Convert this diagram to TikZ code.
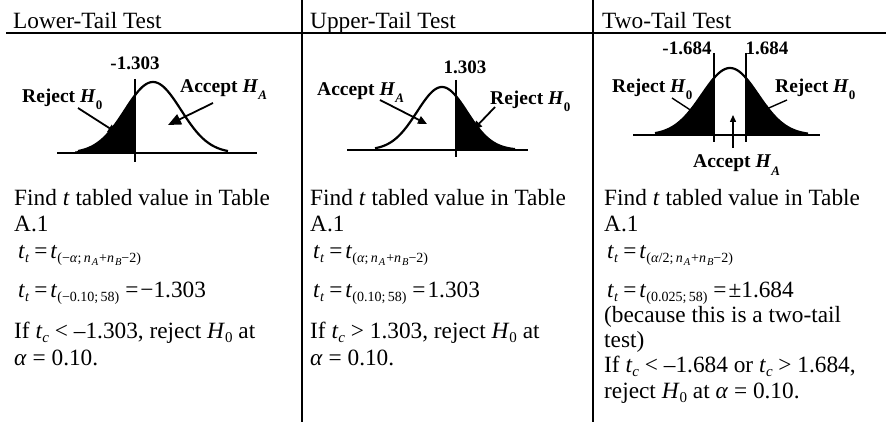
\documentclass[tikz,border=0pt]{standalone}
\usepackage{fontspec}
\setmainfont{Liberation Serif}
\usetikzlibrary{arrows.meta}
\newcommand\sbs[1]{\raisebox{-4pt}{\fontsize{14}{14}\selectfont #1}}
\newcommand\ssbs[1]{\raisebox{-3pt}{\fontsize{10.5}{11}\selectfont\itshape #1}}
\newcommand\tsb[1]{\raisebox{-4.5pt}{\fontsize{15}{15}\selectfont #1}}
\newcommand\glab[2]{#1\hspace{5pt}\textit{H}\raisebox{-7pt}{\fontsize{13}{13}\selectfont #2}}
\begin{document}
\begin{tikzpicture}[x=1pt,y=-1pt,
  declare function={
    gA(\x)=153-71*exp(-((\x-153)^2)/1568);
    gB(\x)=150-63*exp(-((\x-442)^2)/1250);
    gC(\x)=135-67*exp(-((\x-730)^2)/1568);
  },
  txt/.style={anchor=base west,inner sep=0pt,font=\fontsize{23.3}{27}\selectfont},
  lab/.style={anchor=base west,inner sep=0pt,font=\fontsize{19.5}{20}\selectfont\bfseries},
  num/.style={anchor=base,inner sep=0pt,font=\fontsize{19}{20}\selectfont\bfseries},
  rulel/.style={line width=2pt},
  axisl/.style={line width=2.4pt},
  curvel/.style={line width=2.2pt},
  tickl/.style={line width=1.8pt},
  ptr/.style={line width=1.8pt,-{Triangle[length=9pt,width=8pt]}},
  bigptr/.style={line width=1.8pt,-{Triangle[length=13pt,width=11pt]}},
  thinptr/.style={line width=1.4pt,-{Triangle[length=7pt,width=6pt]}},
]
\fill[white] (0,0) rectangle (891,422);
\useasboundingbox (0,0) rectangle (891,422);

% table rules
\draw[rulel] (6,33) -- (886,33);
\draw[rulel] (302,0) -- (302,422);
\draw[rulel] (593,0) -- (593,422);

% headers
\node[txt] (h1) at (13,29) {Lower-Tail Test};
\node[txt] (h2) at (310,29) {Upper-Tail Test};
\node[txt] (h3) at (602,29) {Two-Tail Test};

% ---------- graph 1: lower tail ----------
\fill (75,153) -- plot[domain=75:135,samples=40] (\x,{gA(\x)}) -- (135,153) -- cycle;
\draw[curvel] plot[domain=78:228,samples=80] (\x,{gA(\x)});
\draw[axisl] (57,153) -- (257,153);
\draw[tickl] (135,79) -- (135,162);
\node[num] (n1) at (135,70) {-1.303};
\node[lab] (r1) at (22,103) {\glab{Reject}{0}};
\node[lab] (a1) at (180,93) {\glab{Accept}{\textit{A}}};
\coordinate (r1s) at (78,108); \coordinate (r1e) at (117,133);
\coordinate (a1s) at (213,103); \coordinate (a1e) at (168,125);
\draw[ptr] (r1s) -- (r1e);
\draw[bigptr] (a1s) -- (a1e);

% ---------- graph 2: upper tail ----------
\fill (456,150) -- plot[domain=456:518,samples=40] (\x,{gB(\x)}) -- (518,150) -- cycle;
\draw[curvel] plot[domain=375:515,samples=80] (\x,{gB(\x)});
\draw[axisl] (347,150) -- (528,150);
\draw[tickl] (456,80) -- (456,157);
\node[num] (n2) at (465,74) {1.303};
\node[lab] (a2) at (317,96) {\glab{Accept}{\textit{A}}};
\node[lab] (r2) at (490,105) {\glab{Reject}{0}};
\coordinate (a2s) at (380,100); \coordinate (a2e) at (427,124);
\coordinate (r2s) at (495,107); \coordinate (r2e) at (473,130);
\draw[ptr] (a2s) -- (a2e);
\draw[ptr] (r2s) -- (r2e);

% ---------- graph 3: two tail ----------
\fill (655,135) -- plot[domain=655:714,samples=40] (\x,{gC(\x)}) -- (714,135) -- cycle;
\fill (746,135) -- plot[domain=746:808,samples=40] (\x,{gC(\x)}) -- (808,135) -- cycle;
\draw[curvel] plot[domain=655:808,samples=90] (\x,{gC(\x)});
\draw[axisl] (633,135) -- (820,135);
\draw[tickl] (714,53) -- (714,142);
\draw[tickl] (746,53) -- (746,142);
\node[num] (n3a) at (687,55) {-1.684};
\node[num] (n3b) at (767,55) {1.684};
\node[lab] (r3a) at (612,93) {\glab{Reject}{0}};
\node[lab] (r3b) at (775,93) {\glab{Reject}{0}};
\node[lab] (a3) at (693,168) {\glab{Accept}{\textit{A}}};
\coordinate (r3as) at (672,98); \coordinate (r3ae) at (698,115);
\coordinate (r3bs) at (787,100); \coordinate (r3be) at (762,111);
\coordinate (a3s) at (733,148); \coordinate (a3e) at (733,115);
\draw[thinptr] (r3as) -- (r3ae);
\draw[thinptr] (r3bs) -- (r3be);
\draw[thinptr] (a3s) -- (a3e);

% ---------- column 1 text ----------
\node[txt] (c1l1) at (14,205) {Find \textit{t} tabled value in Table};
\node[txt] (c1l2) at (14,231) {A.1};
\node[txt] (c1f1) at (18,258) {\textit{t}\sbs{\textit{t}}\hspace{5pt}=\hspace{3pt}\textit{t}\sbs{(−\textit{α};\,\textit{n}\hspace{1pt}\ssbs{A}\hspace{1pt}+\textit{n}\hspace{1pt}\ssbs{B}−2)}};
\node[txt] (c1f2) at (18,297) {\textit{t}\sbs{\textit{t}}\hspace{5pt}=\hspace{3pt}\textit{t}\sbs{(−0.10;\,58)}\hspace{6pt}=\hspace{2pt}−1.303};
\node[txt] (c1l5) at (14,338) {If \textit{t}\tsb{\textit{c}} < –1.303, reject \textit{H}\tsb{0} at};
\node[txt] (c1l6) at (14,365) {\textit{α} = 0.10.};

% ---------- column 2 text ----------
\node[txt] (c2l1) at (310,205) {Find \textit{t} tabled value in Table};
\node[txt] (c2l2) at (310,231) {A.1};
\node[txt] (c2f1) at (313,258) {\textit{t}\sbs{\textit{t}}\hspace{5pt}=\hspace{3pt}\textit{t}\sbs{(\textit{α};\,\textit{n}\hspace{1pt}\ssbs{A}\hspace{1pt}+\textit{n}\hspace{1pt}\ssbs{B}−2)}};
\node[txt] (c2f2) at (313,297) {\textit{t}\sbs{\textit{t}}\hspace{5pt}=\hspace{3pt}\textit{t}\sbs{(0.10;\,58)}\hspace{6pt}=\hspace{2pt}1.303};
\node[txt] (c2l5) at (310,338) {If \textit{t}\tsb{\textit{c}} > 1.303, reject \textit{H}\tsb{0} at};
\node[txt] (c2l6) at (310,365) {\textit{α} = 0.10.};

% ---------- column 3 text ----------
\node[txt] (c3l1) at (604,205) {Find \textit{t} tabled value in Table};
\node[txt] (c3l2) at (604,231) {A.1};
\node[txt] (c3f1) at (607,258) {\textit{t}\sbs{\textit{t}}\hspace{5pt}=\hspace{3pt}\textit{t}\sbs{(\textit{α}/2;\,\textit{n}\hspace{1pt}\ssbs{A}\hspace{1pt}+\textit{n}\hspace{1pt}\ssbs{B}−2)}};
\node[txt] (c3f2) at (607,297) {\textit{t}\sbs{\textit{t}}\hspace{5pt}=\hspace{3pt}\textit{t}\sbs{(0.025;\,58)}\hspace{6pt}=\hspace{2pt}±1.684};
\node[txt] (c3l5) at (604,322) {(because this is a two-tail};
\node[txt] (c3l6) at (604,347) {test)};
\node[txt] (c3l7) at (604,372) {If \textit{t}\tsb{\textit{c}} < –1.684 or \textit{t}\tsb{\textit{c}} > 1.684,};
\node[txt] (c3l8) at (604,398) {reject \textit{H}\tsb{0} at \textit{α} = 0.10.};
\end{tikzpicture}
\end{document}
